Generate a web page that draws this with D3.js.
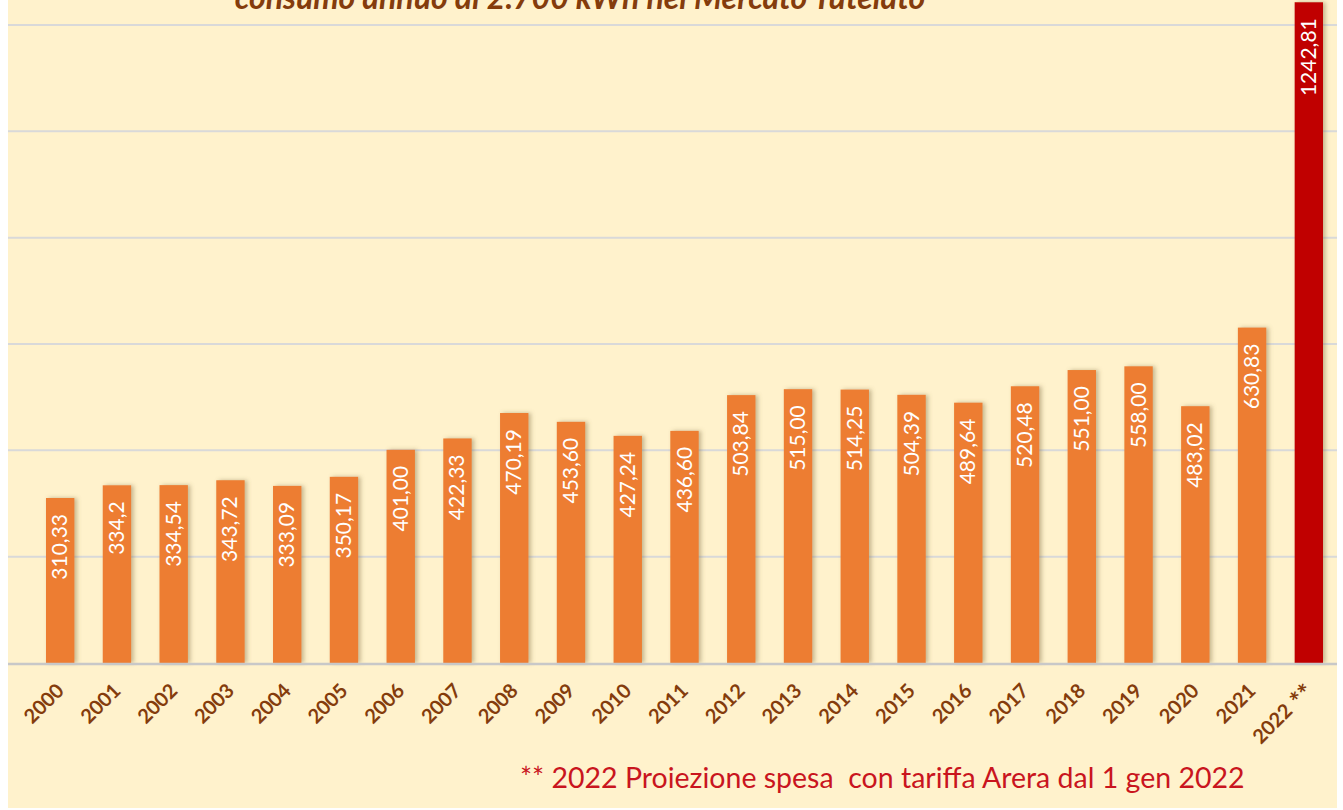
<!DOCTYPE html>
<html><head><meta charset="utf-8">
<script src="https://cdn.jsdelivr.net/npm/d3@7"></script>
<style>
html,body{margin:0;padding:0;background:#fff;}
svg{display:block;}
</style></head>
<body>
<svg id="chart" width="1343" height="810"></svg>
<script>
const categories = ["2000","2001","2002","2003","2004","2005","2006","2007","2008","2009","2010","2011","2012","2013","2014","2015","2016","2017","2018","2019","2020","2021","2022 **"];
const values = [310.33,334.2,334.54,343.72,333.09,350.17,401.00,422.33,470.19,453.60,427.24,436.60,503.84,515.00,514.25,504.39,489.64,520.48,551.00,558.00,483.02,630.83,1242.81];
const labels = ["310,33","334,2","334,54","343,72","333,09","350,17","401,00","422,33","470,19","453,60","427,24","436,60","503,84","515,00","514,25","504,39","489,64","520,48","551,00","558,00","483,02","630,83","1242,81"];
const yTicks = [0,200,400,600,800,1000,1200];
const title = "consumo annuo di 2.700 kWh nel Mercato Tutelato";
const footnote = "** 2022 Proiezione spesa  con tariffa Arera dal 1 gen 2022";

const svg = d3.select("#chart");
svg.append("rect").attr("x",8).attr("y",0).attr("width",1329).attr("height",808).attr("fill","#FFF2CC");

const defs = svg.append("defs");
const f = defs.append("filter").attr("id","sh").attr("x","-30%").attr("y","-5%").attr("width","160%").attr("height","110%");
f.append("feDropShadow").attr("dx",2.5).attr("dy",0).attr("stdDeviation",2).attr("flood-color","#7f6a40").attr("flood-opacity",0.45);

const x = d3.scaleBand().domain(categories).range([31.8,1337.2]).paddingInner(0.5).paddingOuter(0.25);
const y = d3.scaleLinear().domain([0,1200]).range([663,25]);

// gridlines
svg.append("g").selectAll("line").data(yTicks.filter(d=>d>0)).join("line")
  .attr("x1",8).attr("x2",1337).attr("y1",d=>y(d)).attr("y2",d=>y(d))
  .attr("stroke","#D9D9D9").attr("stroke-width",2);

// bars
svg.append("g").selectAll("rect").data(values).join("rect")
  .attr("x",(d,i)=>x(categories[i])).attr("width",x.bandwidth())
  .attr("y",d=>y(d)).attr("height",d=>y(0)-y(d))
  .attr("fill",(d,i)=>i===values.length-1?"#C00000":"#ED7D31")
  .attr("filter","url(#sh)");

// baseline
svg.append("line").attr("x1",8).attr("x2",1337).attr("y1",y(0)+1).attr("y2",y(0)+1)
  .attr("stroke","#C8C8C8").attr("stroke-width",2.5);

// value labels
svg.append("g").selectAll("text").data(values).join("text")
  .attr("transform",(d,i)=>`translate(${x(categories[i])+x.bandwidth()/2+7},${y(d)+16}) rotate(-90)`)
  .attr("text-anchor","end")
  .attr("font-family","Lato, 'Open Sans', sans-serif")
  .attr("font-size",21).attr("fill","#fff")
  .text((d,i)=>labels[i]);

// x axis labels
const xl = svg.append("g").selectAll("text").data(categories).join("text")
  .attr("transform",d=>`translate(${x(d)+x.bandwidth()/2+5},${692}) rotate(-45)`)
  .attr("text-anchor","end")
  .attr("font-family","Lato, 'Open Sans', sans-serif")
  .attr("font-weight","bold").attr("font-size",20).attr("fill","#843C0C");
xl.each(function(d){
  const t = d3.select(this);
  const parts = d.split(" ");
  t.append("tspan").text(parts[0]);
  if (parts.length > 1) t.append("tspan").attr("font-size",26).attr("dy",4).text(" " + parts[1]);
});

// title (cut off at top, as in the original)
svg.append("text").attr("x",580).attr("y",9).attr("text-anchor","middle")
  .attr("font-family","Lato, 'Open Sans', sans-serif").attr("font-style","italic").attr("font-weight","bold")
  .attr("font-size",32).attr("fill","#843C0C").text(title);

// footnote
svg.append("text").attr("x",520).attr("y",788)
  .attr("font-family","Lato, 'Open Sans', sans-serif").attr("font-size",28.5).attr("fill","#C9151E")
  .style("white-space","pre").text(footnote);
</script>
</body></html>
